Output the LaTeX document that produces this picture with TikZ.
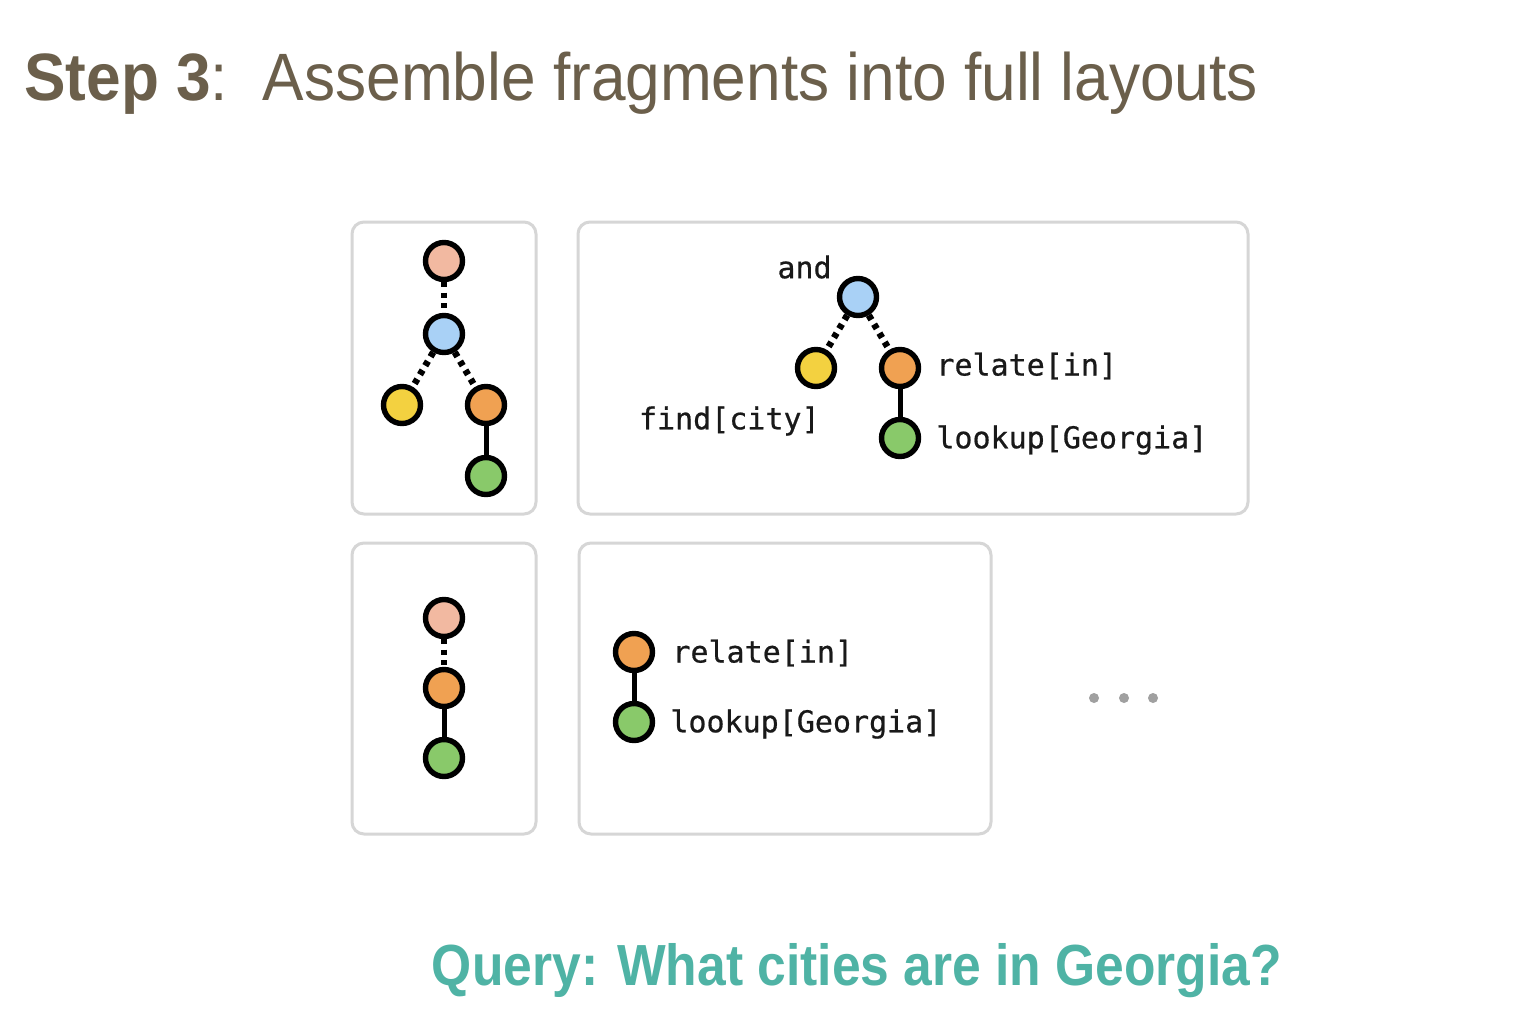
\documentclass[tikz,border=0pt]{standalone}
\usepackage{fontspec}
\setmainfont{Liberation Sans}
\newfontfamily\monof[FakeBold=0.6]{DejaVu Sans Mono}
\definecolor{titlec}{HTML}{6B5F4B}
\definecolor{queryc}{HTML}{4FB3A5}
\definecolor{boxc}{HTML}{D6D6D6}
\definecolor{cpeach}{HTML}{F2B9A1}
\definecolor{cblue}{HTML}{A9D1F6}
\definecolor{cyellow}{HTML}{F3D140}
\definecolor{corange}{HTML}{F0A152}
\definecolor{cgreen}{HTML}{89C96A}
\definecolor{dotc}{HTML}{A0A0A0}
\tikzset{
  frag/.style={draw=boxc, line width=1.5pt, rounded corners=6pt, fill=white},
  vtx/.style={circle, draw=black, line width=2.7pt, minimum size=18.5pt, inner sep=0pt},
  dotline/.style={line width=3.3pt, dash pattern=on 2.6pt off 2.6pt},
  solidline/.style={line width=2.5pt},
  lbl/.style={font=\monof\fontsize{15}{18}\selectfont, inner sep=0pt, text=black!90},
}
\begin{document}
\begin{tikzpicture}[x=0.5pt, y=-0.5pt]
\useasboundingbox[fill=white] (0,0) rectangle (1540,1012);
% title
\node[anchor=base west, inner sep=0pt, text=titlec, font=\fontsize{33.5}{40}\selectfont] (title) at (24,100) {\scalebox{0.928}[1]{\textbf{Step 3}:\ \ Assemble fragments into full layouts}};
% boxes
\draw[frag] (352,222) rectangle (536,514);
\draw[frag] (578,222) rectangle (1248,514);
\draw[frag] (352,543) rectangle (536,834);
\draw[frag] (579,543) rectangle (991,834);
% box 1
\node[vtx, fill=cpeach] (a1) at (444,261) {};
\node[vtx, fill=cblue] (a2) at (444,334) {};
\node[vtx, fill=cyellow] (a3) at (402,405) {};
\node[vtx, fill=corange] (a4) at (486,405) {};
\node[vtx, fill=cgreen] (a5) at (486,476) {};
\draw[dotline] (a1) -- (a2);
\draw[dotline] (a2) -- (a3);
\draw[dotline] (a2) -- (a4);
\draw[solidline] (a4) -- (a5);
% box 2
\node[vtx, fill=cblue] (b1) at (858,297) {};
\node[vtx, fill=cyellow] (b2) at (816,368) {};
\node[vtx, fill=corange] (b3) at (900,368) {};
\node[vtx, fill=cgreen] (b4) at (900,438) {};
\draw[dotline] (b1) -- (b2);
\draw[dotline] (b1) -- (b3);
\draw[solidline] (b3) -- (b4);
\node[lbl, anchor=east] (l1) at (832,267) {and};
\node[lbl, anchor=east] (l2) at (820,421) {find[city]};
\node[lbl, anchor=west] (l3) at (936,366) {relate[in]};
\node[lbl, anchor=west] (l4) at (936,440) {lookup[Georgia]};
% box 3
\node[vtx, fill=cpeach] (c1) at (444,618) {};
\node[vtx, fill=corange] (c2) at (444,688) {};
\node[vtx, fill=cgreen] (c3) at (444,758) {};
\draw[dotline] (c1) -- (c2);
\draw[solidline] (c2) -- (c3);
% box 4
\node[vtx, fill=corange] (d1) at (634,652) {};
\node[vtx, fill=cgreen] (d2) at (634,722) {};
\draw[solidline] (d1) -- (d2);
\node[lbl, anchor=west] (l5) at (672,653) {relate[in]};
\node[lbl, anchor=west] (l6) at (670,724) {lookup[Georgia]};
% ellipsis dots
\fill[dotc] (1094,698) circle (5);
\fill[dotc] (1124,698) circle (5);
\fill[dotc] (1153,698) circle (5);
% query
\node[anchor=base, inner sep=0pt, text=queryc, font=\bfseries\fontsize{29}{34}\selectfont] (query) at (857,985) {\scalebox{0.889}[1]{Query: What cities are in Georgia?}};
\end{tikzpicture}
\end{document}
